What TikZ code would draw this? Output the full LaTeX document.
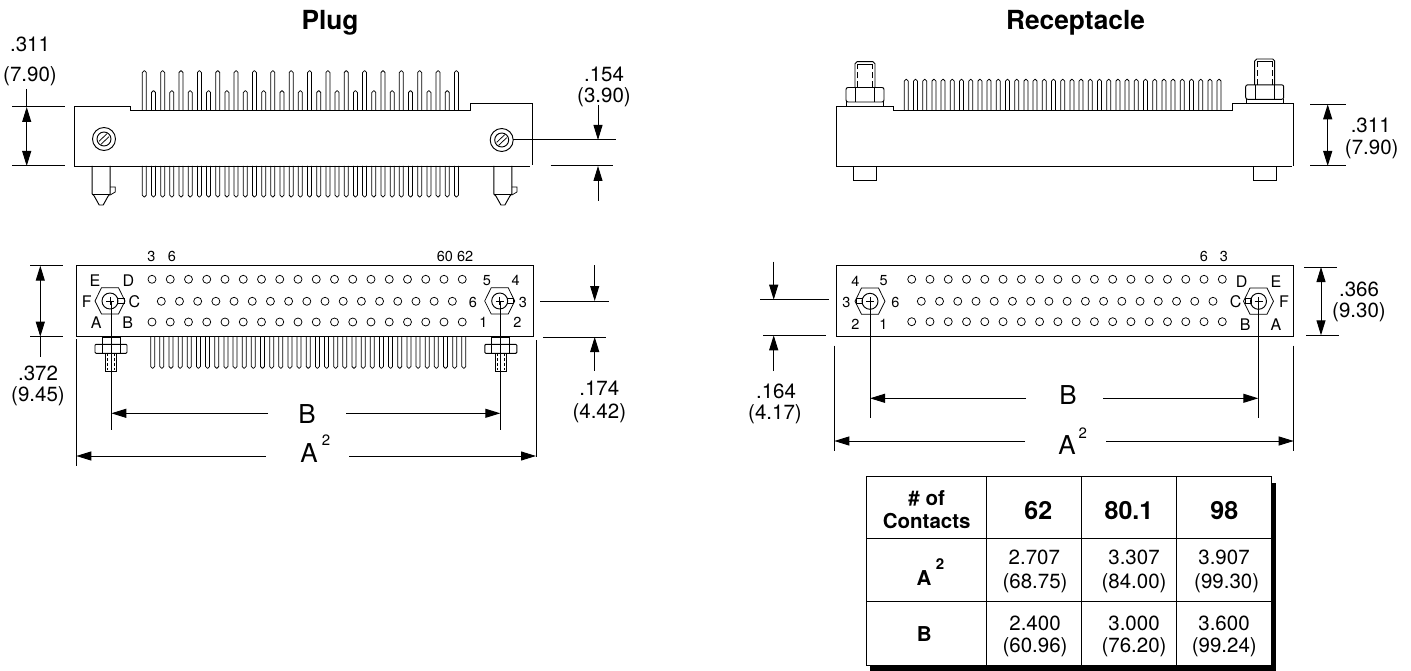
\documentclass[tikz,border=0pt]{standalone}
\usepackage{fontspec}
\setmainfont{TeX Gyre Heros}
\usetikzlibrary{arrows.meta}
\tikzset{
  part/.style={draw=black,line width=0.95pt,line join=miter},
  thin part/.style={draw=black,line width=0.75pt},
  dimline/.style={draw=black,line width=1pt},
  dimarrow/.style={draw=black,line width=1pt,-{Triangle[length=15pt,width=9pt]}},
  dimboth/.style={draw=black,line width=1pt,{Triangle[length=15pt,width=9pt]}-{Triangle[length=15pt,width=9pt]}},
  title/.style={font=\fontsize{26.3}{26.3}\selectfont\bfseries,inner sep=0pt,anchor=base},
  dimtext/.style={font=\fontsize{20.5}{20.5}\selectfont,inner sep=0pt},
  bigtext/.style={font=\fontsize{26}{26}\selectfont,inner sep=0pt},
  suptext/.style={font=\fontsize{15}{15}\selectfont,inner sep=0pt},
  pintext/.style={font=\fontsize{14.5}{14.5}\selectfont,inner sep=0pt},
  lettertext/.style={font=\fontsize{16}{16}\selectfont,inner sep=0pt},
  headtext/.style={font=\fontsize{25}{25}\selectfont\bfseries,inner sep=0pt},
  subhead/.style={font=\fontsize{20.5}{20.5}\selectfont\bfseries,inner sep=0pt},
  cell/.style={font=\fontsize{20.5}{20.5}\selectfont,inner sep=0pt},
  hexscrew/.pic={
    \draw[thin part] (-15,0)--(-8.5,-13.3)--(8.5,-13.3)--(15,0)--(8.5,13)--(-8.5,13)--cycle;
    \draw[part] (0,0) circle (8);
    \draw[thin part] (-4,0)--(4,0) (0,-4)--(0,4);
  },
  slotscrew/.pic={
    \draw[part] (0,0) circle (11.5);
    \draw[part] (0,0) circle (7);
    \draw[thin part] (-5,2.3)--(3,-5.3) (-3,5.3)--(5,-2.3);
  },
  studdown/.pic={
    \draw[part] (-9,0) rectangle (9,7);
    \draw[part,rounded corners=1pt] (-16,7) rectangle (16,16);
    \draw[thin part] (-9,7)--(-9,16) (9,7)--(9,16);
    \draw[part] (-5.5,16)--(-5.5,34)--(5.5,34)--(5.5,16);
    \draw[thin part,dash pattern=on 3pt off 2pt] (-3.5,16)--(-3.5,33) (3.5,16)--(3.5,33);
  },
  studup/.pic={
    \draw[part] (-18.5,0)--(-18.5,-4) (18.5,0)--(18.5,-4);
    \draw[part,rounded corners=2pt] (-19,-4) rectangle (19,-18.5);
    \draw[thin part] (-9.5,-4)--(-9.5,-18.5) (9.5,-4)--(9.5,-18.5);
    \draw[part] (-10,-18.5)--(-10,-42.3) -- (-8,-44.3) -- (8,-44.3) -- (10,-42.3) -- (10,-18.5);
    \draw[thin part] (-8,-42)--(8,-42);
    \draw[thin part,dash pattern=on 6pt off 3pt] (-7.5,-18.5)--(-7.5,-41) (7.5,-18.5)--(7.5,-41);
  },
  guidepin/.pic={
    \draw[part] (-9,0)--(-9,28)--(-7,30)--(-2,39)--(0,39)--(2,39)--(7,30)--(9,28)--(9,0);
    \draw[thin part] (-9,28)--(9,28);
    \draw[thin part] (9,21)--(14,21)--(14,26)--(9,29);
  }
}
\begin{document}
\begin{tikzpicture}[x=1pt,y=-1pt]
\useasboundingbox (0,0) rectangle (1411,671);

% titles
\node[title] (tplug) at (330,29.3) {Plug};
\node[title] (trec) at (1075.5,29.3) {Receptacle};

% ===== Plug side view =====
\draw[part] (130,110.7)--(130,106)--(74,106)--(74,166)--(530,166);
\draw[part] (130,110.7)--(470.7,110.7)--(470.7,103)--(532,103)--(532,165);
\foreach \i in {0,...,34} {
  \pgfmathsetmacro\xa{142.3+9.18*\i}
  \pgfmathsetmacro\xb{\xa+4}
  \pgfmathsetmacro\ytop{isodd(\i)?90.7:70.7}
  \draw[thin part,rounded corners=1.8pt] (\xa,110.7)--(\xa,\ytop)--(\xb,\ytop)--(\xb,110.7);
  \draw[thin part,rounded corners=1.8pt] (\xa,166)--(\xa,197)--(\xb,197)--(\xb,166);
}
\path (104,139) pic {slotscrew} (501.7,140) pic {slotscrew};
\path (101.2,166) pic {guidepin} (502.9,166) pic {guidepin};

\draw[dimline] (12,107)--(65,107) (12,166)--(65,166);
\draw[dimboth] (26.7,107)--(26.7,166);
\draw[dimline] (26.7,89)--(26.7,107);
\node[dimtext] (p311) at (30,44.5) {.311};
\node[dimtext] (p790) at (30,76) {(7.90)};

\draw[dimline] (512.7,140)--(615.7,140) (550.7,166)--(613,166);
\draw[dimarrow] (598,105)--(598,140);
\draw[dimarrow] (598,200.7)--(598,166);
\node[dimtext] (p154) at (604,74) {.154};
\node[dimtext] (p390) at (604,97) {(3.90)};

% ===== Plug face view =====
\draw[part] (76,336.7)--(76,265)--(533.7,265)--(533.7,336.7)--cycle;
\foreach \i in {0,...,17} {
  \pgfmathsetmacro\xa{152+18.25*\i}
  \draw[thin part] (\xa,279.3) circle (4) (\xa,322) circle (4);
}
\foreach \i in {0,...,16} {
  \pgfmathsetmacro\xa{161.3+18.19*\i}
  \draw[thin part] (\xa,301.3) circle (4);
}
\path (110,301) pic {hexscrew} (499.7,301) pic {hexscrew};
\draw[thin part] (117.5,298.5) rectangle (124,303.5);
\draw[thin part] (507,298.5) rectangle (513,303.5);
\foreach \i in {0,...,34} {
  \pgfmathsetmacro\xa{150.7+9.15*\i}
  \pgfmathsetmacro\xb{\xa+4}
  \draw[thin part,rounded corners=1.8pt] (\xa,337)--(\xa,368.3)--(\xb,368.3)--(\xb,337);
}
\path (111,337.3) pic {studdown} (500.8,337.3) pic {studdown};

\node[pintext] (pn3) at (151.3,256.7) {3};
\node[pintext] (pn6) at (172,256.7) {6};
\node[pintext] (pn60) at (455,256.7) {60 62};
\node[lettertext] (pe) at (95,280.7) {E};
\node[lettertext] (pd) at (128.3,280.7) {D};
\node[lettertext] (pf) at (86.7,302) {F};
\node[lettertext] (pc) at (134.3,302) {C};
\node[lettertext] (pa) at (96.3,322.7) {A};
\node[lettertext] (pb) at (127.7,322.7) {B};
\node[pintext] (p5) at (487,280.7) {5};
\node[pintext] (p4) at (515.7,280.7) {4};
\node[pintext] (p6) at (473,302) {6};
\node[pintext] (p3) at (523,302) {3};
\node[pintext] (p1) at (483.3,322.7) {1};
\node[pintext] (p2) at (517.3,322.7) {2};

\draw[dimline] (30,265.7)--(62.7,265.7) (30,336.7)--(62.7,336.7);
\draw[dimboth] (40.3,265.7)--(40.3,336.7);
\draw[dimline] (40.3,336.7)--(40.3,357.3);
\node[dimtext] (p372) at (38,373) {.372};
\node[dimtext] (p945) at (38,396) {(9.45)};

\draw[dimline] (540,301)--(609,301) (543,337)--(606,337);
\draw[dimarrow] (594.7,265)--(594.7,301);
\draw[dimarrow] (594.7,370.7)--(594.7,337);
\node[dimtext] (p174) at (599.3,388) {.174};
\node[dimtext] (p442) at (599.3,413) {(4.42)};

\draw[dimline] (111.3,301)--(111.3,430) (500.3,301)--(500.3,430);
\draw[dimline] (76.3,339)--(76.3,466) (536,340)--(536,457);
\draw[dimarrow] (268,413.3)--(111.3,413.3);
\draw[dimarrow] (346,413.3)--(500.3,413.3);
\node[bigtext] (pB) at (307,414) {B};
\draw[dimarrow] (265.7,456)--(76.3,456);
\draw[dimarrow] (349,456)--(536,456);
\node[bigtext] (pA) at (309,453) {A};
\node[suptext] (pA2) at (326,440) {2};

% ===== Receptacle side view =====
\draw[part] (893.3,110.7)--(893.3,106)--(836.7,106)--(836.7,166)--(1292,166);
\draw[part] (893.3,110.7)--(1232.7,110.7)--(1232.7,103.3)--(1293.7,103.3)--(1293.7,166);
\foreach \i in {0,...,34} {
  \pgfmathsetmacro\xa{904.3+9.2*\i}
  \pgfmathsetmacro\xb{\xa+4}
  \draw[thin part,rounded corners=1.8pt] (\xa,110.7)--(\xa,79.3)--(\xb,79.3)--(\xb,110.7);
}
\path (865,106) pic {studup} (1264.7,103.3) pic {studup};
\draw[part] (853.3,166) rectangle (876.7,180);
\draw[part] (1253,166) rectangle (1276.7,180);

\draw[dimline] (1310,104.3)--(1345.7,104.3) (1310,166)--(1345.7,166);
\draw[dimboth] (1327.7,104.3)--(1327.7,166);
\node[dimtext] (r311) at (1370.7,125.7) {.311};
\node[dimtext] (r790) at (1371.7,149) {(7.90)};

% ===== Receptacle face view =====
\draw[part] (836.3,336.7)--(836.3,265)--(1293.7,265)--(1293.7,336.7)--cycle;
\foreach \i in {0,...,17} {
  \pgfmathsetmacro\xa{911.7+18.27*\i}
  \draw[thin part] (\xa,279.3) circle (4) (\xa,321.7) circle (4);
}
\foreach \i in {0,...,16} {
  \pgfmathsetmacro\xa{921.3+18.23*\i}
  \draw[thin part] (\xa,301.3) circle (4);
}
\path (870,301.3) pic {hexscrew} (1258.5,301.3) pic {hexscrew};
\draw[thin part] (856,298.5) rectangle (862,303.5);
\draw[thin part] (1245,298.5) rectangle (1251,303.5);

\node[pintext] (rn6) at (1204,256.7) {6};
\node[pintext] (rn3) at (1224,256.7) {3};
\node[lettertext] (rd) at (1241.7,281.3) {D};
\node[lettertext] (re) at (1276,281.3) {E};
\node[lettertext] (rc) at (1235.7,301.7) {C};
\node[lettertext] (rf) at (1284,301.7) {F};
\node[lettertext] (rb) at (1245.3,325) {B};
\node[lettertext] (ra) at (1276,325) {A};
\node[pintext] (r4) at (855.3,281.3) {4};
\node[pintext] (r5) at (883.7,281) {5};
\node[pintext] (r3) at (846.3,302) {3};
\node[pintext] (r6) at (895.3,302) {6};
\node[pintext] (r2) at (855.3,324.7) {2};
\node[pintext] (r1) at (883.3,324.7) {1};

\draw[dimline] (760,299.7)--(829.3,299.7) (763.3,335.3)--(826,335.3);
\draw[dimarrow] (773.7,261.7)--(773.7,299.7);
\draw[dimarrow] (773.7,371)--(773.7,335.3);
\node[dimtext] (r164) at (776,391.7) {.164};
\node[dimtext] (r417) at (775,414.3) {(4.17)};

\draw[dimline] (1304,267)--(1336.7,267) (1306,335.3)--(1339,335.3);
\draw[dimboth] (1321,267)--(1321,335.3);
\node[dimtext] (r366) at (1359,289.3) {.366};
\node[dimtext] (r930) at (1359,312.7) {(9.30)};

\draw[dimline] (870,301.3)--(870,418.3) (1258.3,301.3)--(1258.3,418.3);
\draw[dimline] (834.3,345.7)--(834.3,450.7) (1293.7,345.7)--(1293.7,450.7);
\draw[dimarrow] (1026,398.3)--(870,398.3);
\draw[dimarrow] (1103.3,398.3)--(1258.3,398.3);
\node[bigtext] (rB) at (1068,395) {B};
\draw[dimarrow] (1025,441)--(834.3,441);
\draw[dimarrow] (1106,441)--(1293.7,441);
\node[bigtext] (rA) at (1067,445) {A};
\node[suptext] (rA2) at (1082.7,432.7) {2};

% ===== Table =====
\fill[black] (870,483) rectangle (1276,670.7);
\draw[part,fill=white] (866.7,476.7) rectangle (1271.7,665.7);
\draw[part] (986.7,476.7)--(986.7,665.7) (1081.3,476.7)--(1081.3,665.7) (1176.3,476.7)--(1176.3,665.7);
\draw[part] (866.7,538.3)--(1271.7,538.3) (866.7,601)--(1271.7,601);
\node[subhead] (hof) at (926.7,498) {\# of};
\node[subhead] (hcon) at (926.7,521) {Contacts};
\node[headtext] (h62) at (1038.3,511) {62};
\node[headtext] (h80) at (1129,511) {80.1};
\node[headtext] (h98) at (1224.3,511) {98};
\node[subhead] (ca) at (924,578) {A};
\node[font=\fontsize{15}{15}\selectfont\bfseries,inner sep=0pt] (ca2) at (940,564) {2};
\node[subhead] (cb) at (924.3,634) {B};
\node[cell] (a1) at (1034.3,557.3) {2.707};
\node[cell] (a2) at (1035,582.7) {(68.75)};
\node[cell] (a3) at (1134,557.3) {3.307};
\node[cell] (a4) at (1134,582.7) {(84.00)};
\node[cell] (a5) at (1224,557.3) {3.907};
\node[cell] (a6) at (1226.7,582.7) {(99.30)};
\node[cell] (b1) at (1035,623.3) {2.400};
\node[cell] (b2) at (1035,646.7) {(60.96)};
\node[cell] (b3) at (1134,623.3) {3.000};
\node[cell] (b4) at (1134,646.7) {(76.20)};
\node[cell] (b5) at (1224,623.3) {3.600};
\node[cell] (b6) at (1224.3,646.7) {(99.24)};
\end{tikzpicture}
\end{document}
